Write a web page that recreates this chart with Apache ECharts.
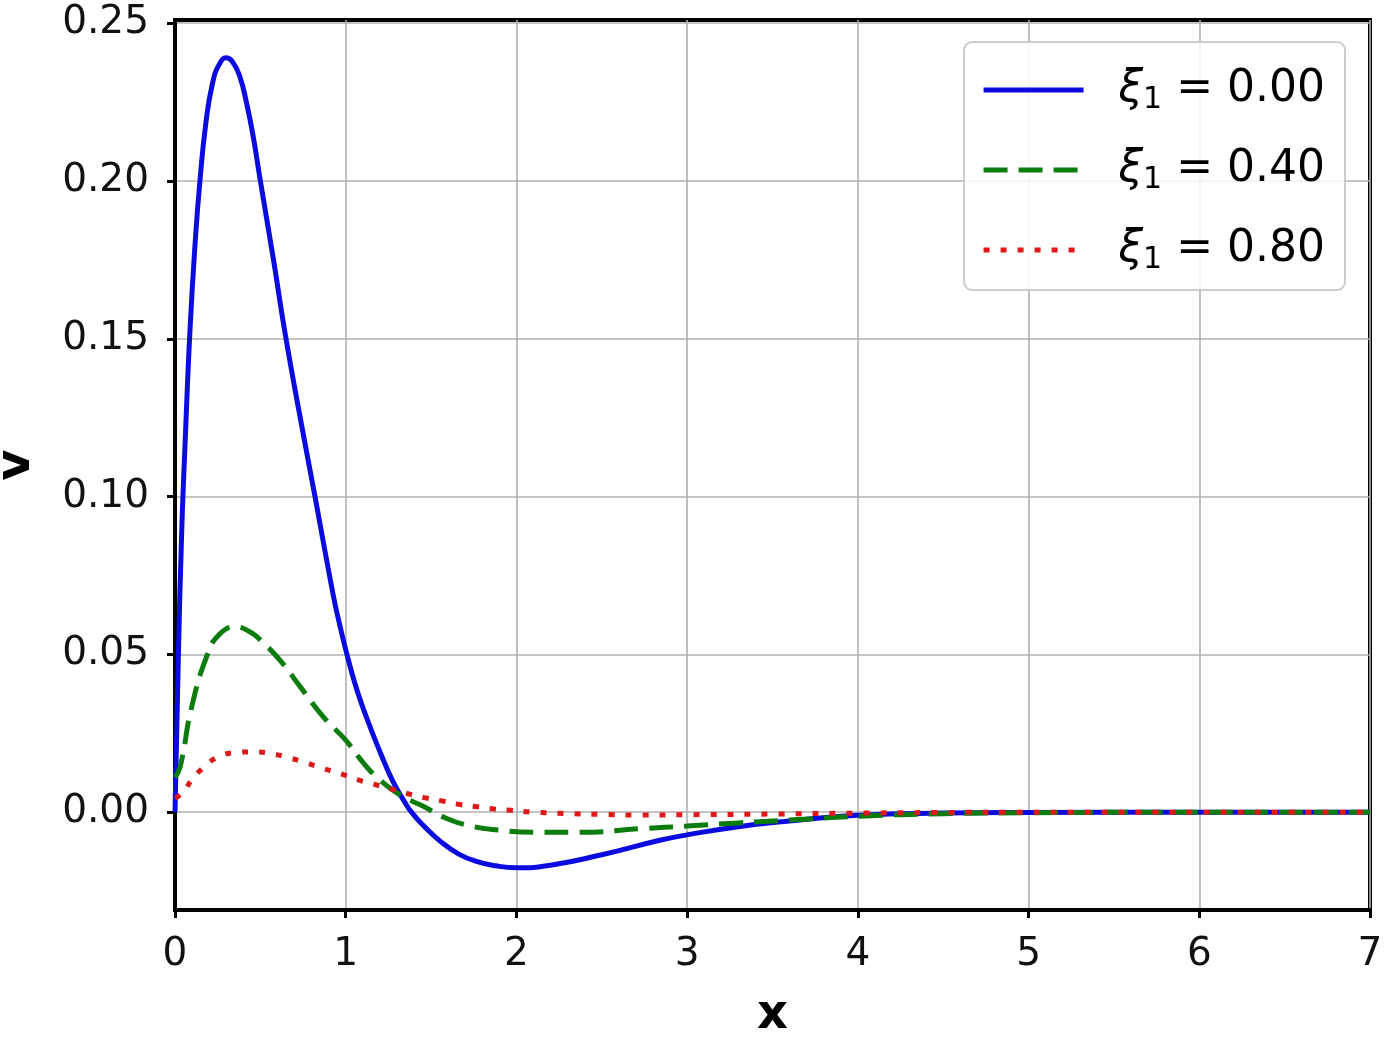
<!DOCTYPE html>
<html>
<head>
<meta charset="utf-8">
<script src="https://cdn.jsdelivr.net/npm/echarts@6/dist/echarts.min.js"></script>
<style>
  html, body { margin: 0; padding: 0; background: #fff; }
  #chart { width: 1389px; height: 1037px; }
</style>
</head>
<body>
<div id="chart"></div>
<script>
// values
const xTicks = [0, 1, 2, 3, 4, 5, 6, 7];
const yTicks = [0, 0.05, 0.1, 0.15, 0.2, 0.25];

const legendNames = ['0.00', '0.40', '0.80'];

const xi0 = [
    [0, 0], [0.02, 0.05], [0.04, 0.09], [0.06, 0.118], [0.088, 0.153], [0.12, 0.182],
    [0.146, 0.2], [0.18, 0.218], [0.22, 0.231], [0.26, 0.237], [0.3, 0.239], [0.34, 0.2375],
    [0.38, 0.233], [0.42, 0.2245], [0.46, 0.2135], [0.5, 0.2], [0.58, 0.174], [0.644, 0.152],
    [0.73, 0.126], [0.82, 0.1], [0.926, 0.069], [0.96, 0.0605], [1.0, 0.0515], [1.05, 0.0415],
    [1.095, 0.034], [1.15, 0.026], [1.2, 0.0192], [1.25, 0.0128], [1.295, 0.0078], [1.34, 0.0037],
    [1.385, 0], [1.46, -0.0045], [1.56, -0.0095], [1.66, -0.0132], [1.76, -0.0155], [1.88, -0.017],
    [2.0, -0.0176], [2.2, -0.0168], [2.5, -0.0135], [2.84, -0.0089], [3.0, -0.0072],
    [3.3, -0.0046], [3.6, -0.0028], [4.0, -0.001], [4.5, -0.0003], [5.0, -0.0001], [6.0, 0], [7.0, 0]
];

const xi40 = [
    [0, 0.011], [0.03, 0.0143], [0.098, 0.0334], [0.19, 0.05], [0.254, 0.056], [0.35, 0.0587],
    [0.44, 0.0571], [0.5, 0.0545], [0.617, 0.048], [0.734, 0.0397], [0.87, 0.0301], [1.0, 0.0228],
    [1.09, 0.0165], [1.18, 0.0112], [1.32, 0.0054], [1.46, 0.0017], [1.57, -0.0015], [1.71, -0.0041],
    [1.9, -0.0057], [2.11, -0.0064], [2.35, -0.0064], [2.74, -0.0052], [3.0, -0.0044], [3.3, -0.0034],
    [3.6, -0.0025], [4.0, -0.0013], [4.5, -0.0005], [5.0, -0.0002], [6.0, 0], [7.0, 0]
];

const xi80 = [
    [0, 0.0045], [0.04, 0.0059], [0.1, 0.0103], [0.17, 0.0143], [0.254, 0.0175], [0.356, 0.0189],
    [0.46, 0.0191], [0.56, 0.0186], [0.67, 0.0172], [0.77, 0.0156], [0.87, 0.0138], [0.97, 0.0122],
    [1.07, 0.0103], [1.16, 0.0089], [1.27, 0.0073], [1.36, 0.0059], [1.46, 0.0046], [1.57, 0.0035],
    [1.67, 0.0024], [1.77, 0.0017], [1.87, 0.001], [1.97, 0.0006], [2.08, 0.0001], [2.28, -0.0004],
    [2.49, -0.0007], [2.7, -0.0009], [3.0, -0.0008], [3.5, -0.0006], [4.0, -0.0003], [4.5, -0.0001],
    [5.0, 0], [6.0, 0], [7.0, 0]
];

const chart = echarts.init(document.getElementById('chart'));

const lineSeries = (name, data, color, type) => ({
    name: name,
    type: 'line',
    data: data,
    smooth: 0.5,
    showSymbol: false,
    symbol: 'none',
    lineStyle: { color: color, width: 5, type: type },
    itemStyle: { color: color }
});

const option = {
    backgroundColor: '#fff',
    animation: false,
    textStyle: { fontFamily: 'DejaVu Sans' },
    grid: {
        left: 175,
        right: 19,
        top: 20,
        bottom: 127,
        outerBoundsMode: 'none',
        containLabel: false,
        show: true,
        borderColor: '#000',
        borderWidth: 4
    },
    legend: {
        orient: 'vertical',
        right: 44,
        top: 42,
        padding: [23, 20, 15, 17],
        itemWidth: 100,
        itemHeight: 20,
        itemGap: 30,
        backgroundColor: 'rgba(255,255,255,0.85)',
        borderColor: '#cccccc',
        borderWidth: 2,
        borderRadius: 8,
        itemStyle: { opacity: 0 },
        lineStyle: { width: 5 },
        formatter: name => '{i|ξ}{s|1}{n| = ' + name + '}',
        textStyle: {
            padding: [0, 0, 0, 30],
            lineHeight: 50,
            rich: {
                i: { fontFamily: 'DejaVu Sans', fontStyle: 'italic', fontSize: 44, color: '#000', lineHeight: 50 },
                s: { fontFamily: 'DejaVu Sans', fontSize: 30, color: '#000', lineHeight: 26, verticalAlign: 'bottom' },
                n: { fontFamily: 'DejaVu Sans', fontSize: 44, color: '#000', lineHeight: 50 }
            }
        },
        data: legendNames
    },
    xAxis: {
        type: 'value',
        min: xTicks[0],
        max: xTicks[xTicks.length - 1],
        interval: 1,
        name: 'x',
        nameLocation: 'middle',
        nameGap: 82,
        nameTextStyle: { fontSize: 48, fontWeight: 'bold', color: '#000' },
        axisLine: { show: true, onZero: false, lineStyle: { color: '#000', width: 4 } },
        axisTick: { show: true, length: 8, lineStyle: { color: '#000', width: 3 } },
        axisLabel: { fontSize: 39, color: '#111', margin: 25 },
        splitLine: { show: true, lineStyle: { color: '#b0b0b0', width: 1.6 } }
    },
    yAxis: {
        type: 'value',
        min: -0.031,
        max: 0.251,
        name: 'v',
        nameLocation: 'middle',
        nameGap: 134,
        nameTextStyle: { fontSize: 48, fontWeight: 'bold', color: '#000' },
        axisLine: { show: true, onZero: false, lineStyle: { color: '#000', width: 4 } },
        axisTick: { show: true, length: 8, customValues: yTicks, lineStyle: { color: '#000', width: 3 } },
        axisLabel: {
            fontSize: 39,
            color: '#111',
            margin: 26,
            customValues: yTicks,
            formatter: v => v.toFixed(2)
        },
        splitLine: { show: true, lineStyle: { color: '#b0b0b0', width: 1.6 } }
    },
    series: [
        lineSeries(legendNames[0], xi0, '#0b0be0', 'solid'),
        lineSeries(legendNames[1], xi40, '#0c7d0c', [24, 11]),
        lineSeries(legendNames[2], xi80, '#e01818', [6, 11])
    ]
};

chart.setOption(option);
</script>
</body>
</html>
